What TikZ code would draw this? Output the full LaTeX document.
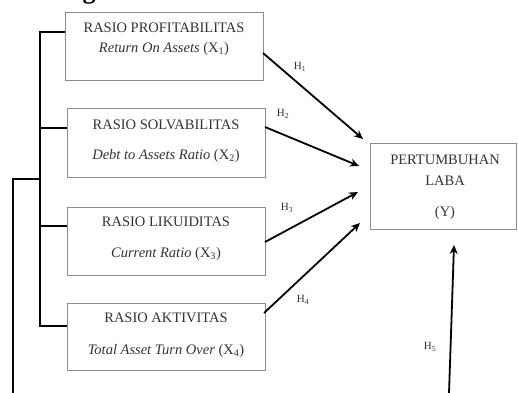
\documentclass[tikz,border=0pt]{standalone}
\usepackage{fontspec}
\setmainfont{Liberation Serif}
\usetikzlibrary{arrows.meta}
\definecolor{txt}{HTML}{333333}
\definecolor{bord}{HTML}{8C8C8C}
\tikzset{
  box/.style={draw=bord, line width=1pt},
  lbl/.style={text=txt, font=\fontsize{14.5}{16}\selectfont, inner sep=0pt},
  hl/.style={text=txt, font=\fontsize{11}{12}\selectfont, inner sep=0pt},
  conn/.style={line width=1.8pt, black},
  arr/.style={conn, -{Stealth[length=9pt,width=8pt]}},
}
\begin{document}
\begin{tikzpicture}[x=1pt,y=-1pt]
\useasboundingbox (0,0) rectangle (518,392);
% cut heading glyph
\node[anchor=base, inner sep=0pt, font=\fontsize{26}{28}\selectfont\bfseries] at (89,-2) {g};
% boxes
\draw[box] (65,12) rectangle (263,80);
\draw[box] (67,108) rectangle (265,177);
\draw[box] (67,207) rectangle (265,275);
\draw[box] (67,303) rectangle (265,370);
\draw[box] (370,143) rectangle (516,229);
\coordinate (b1) at (65,32);
\coordinate (b2) at (67,128);
\coordinate (b3) at (67,226);
\coordinate (b4) at (67,326);
% texts
\node[lbl] (t1a) at (164,28) {RASIO PROFITABILITAS};
\node[lbl] (t1b) at (164,49) {\itshape Return On Assets {\upshape (X\textsubscript{1})}};
\node[lbl] (t2a) at (166,125) {RASIO SOLVABILITAS};
\node[lbl] (t2b) at (166,156) {\itshape Debt to Assets Ratio {\upshape (X\textsubscript{2})}};
\node[lbl] (t3a) at (166,222) {RASIO LIKUIDITAS};
\node[lbl] (t3b) at (166,254) {\itshape Current Ratio {\upshape (X\textsubscript{3})}};
\node[lbl] (t4a) at (166,318) {RASIO AKTIVITAS};
\node[lbl] (t4b) at (166,351) {\itshape Total Asset Turn Over {\upshape (X\textsubscript{4})}};
\node[lbl] (ya) at (445,160) {PERTUMBUHAN};
\node[lbl] (yb) at (445,181) {LABA};
\node[lbl] (yc) at (445,213) {(Y)};
% bracket
\coordinate (i1) at (40,32);
\coordinate (i4) at (40,326);
\coordinate (j2) at (40,128);
\coordinate (j3) at (40,226);
\coordinate (jo) at (40,179);
\coordinate (o1) at (13,179);
\coordinate (o2) at (13,393);
\draw[conn] (b1) -- (i1) -- (i4) -- (b4);
\draw[conn] (j2) -- (b2);
\draw[conn] (j3) -- (b3);
\draw[conn] (jo) -- (o1) -- (o2);
% arrows
\coordinate (s1) at (263,53);
\coordinate (e1) at (363,139);
\coordinate (s2) at (265,127);
\coordinate (e2) at (359,166);
\coordinate (s3) at (265,242);
\coordinate (e3) at (358,192);
\coordinate (s4) at (264,313);
\coordinate (e4) at (360,223);
\coordinate (s5) at (449,393);
\coordinate (e5) at (454,245);
\draw[arr] (s1) -- (e1);
\draw[arr] (s2) -- (e2);
\draw[arr] (s3) -- (e3);
\draw[arr] (s4) -- (e4);
\draw[arr] (s5) -- (e5);
\node[hl] (h1) at (300,67) {H\textsubscript{1}};
\node[hl] (h2) at (283,114) {H\textsubscript{2}};
\node[hl] (h3) at (287,208) {H\textsubscript{3}};
\node[hl] (h4) at (303,300) {H\textsubscript{4}};
\node[hl] (h5) at (430,347) {H\textsubscript{5}};
\end{tikzpicture}
\end{document}
